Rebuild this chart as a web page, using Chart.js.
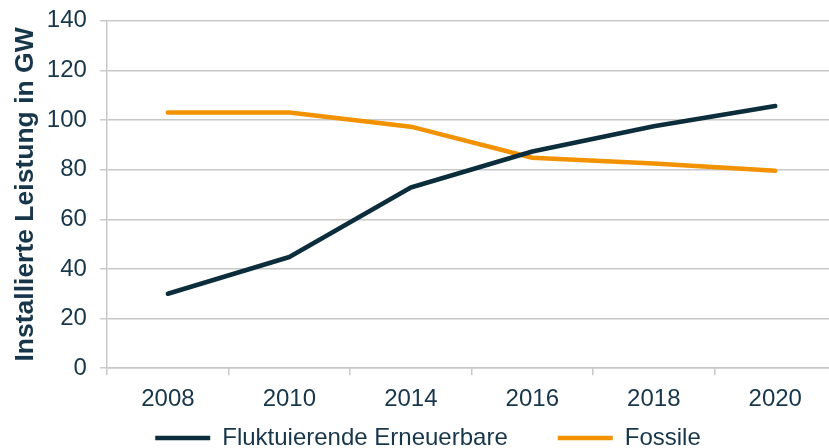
<!DOCTYPE html>
<html>
<head>
<meta charset="utf-8">
<script src="https://cdn.jsdelivr.net/npm/chart.js@4"></script>
<style>
  html, body { margin: 0; padding: 0; background: #fff; overflow: hidden; }
  #wrap { width: 837px; height: 448px; }
</style>
</head>
<body>
<div id="wrap"><canvas id="chart"></canvas></div>
<script>
// Werte (GW)
const jahre = ['2008', '2010', '2014', '2016', '2018', '2020'];
const erneuerbare = [30, 44.8, 72.8, 87.3, 97.5, 105.6];
const fossile = [103, 103, 97.3, 84.8, 82.5, 79.5];
const yTicks = [0, 20, 40, 60, 80, 100, 120, 140];

const dunkel = '#0c2d3c';
const orange = '#f39200';
const textFarbe = '#17364a';
const gitter = '#c8c8c8';

Chart.defaults.font.family = "'Liberation Sans', Arial, sans-serif";
Chart.defaults.color = textFarbe;

const ctx = document.getElementById('chart').getContext('2d');
new Chart(ctx, {
  type: 'line',
  data: {
    labels: jahre,
    datasets: [
      {
        label: 'Fluktuierende Erneuerbare',
        data: erneuerbare,
        borderColor: dunkel,
        backgroundColor: dunkel,
        borderWidth: 4.5,
        borderCapStyle: 'round',
        borderJoinStyle: 'round',
        pointRadius: 0,
        tension: 0
      },
      {
        label: 'Fossile',
        data: fossile,
        borderColor: orange,
        backgroundColor: orange,
        borderWidth: 4.5,
        borderCapStyle: 'round',
        borderJoinStyle: 'round',
        pointRadius: 0,
        tension: 0
      }
    ]
  },
  options: {
    responsive: true,
    maintainAspectRatio: false,
    animation: false,
    layout: { padding: { left: 20, right: 1, top: 0, bottom: -12 } },
    plugins: {
      tooltip: { enabled: false },
      legend: {
        position: 'bottom',
        // leerer Titel mit negativem Abstand: grosser Abstand zwischen den Eintraegen,
        // ohne dass die Legende hoeher wird
        title: { display: true, text: '', font: { size: 10 }, padding: { top: -60, bottom: 0 } },
        labels: {
          usePointStyle: true,
          pointStyle: 'line',
          pointStyleWidth: 55,
          padding: 50,
          color: textFarbe,
          font: { size: 24 }
        }
      }
    },
    scales: {
      x: {
        offset: true,
        grid: {
          offset: true,
          drawOnChartArea: false,
          color: gitter,
          lineWidth: 1.5,
          tickLength: 7
        },
        border: { color: gitter, width: 1.5 },
        ticks: { color: textFarbe, font: { size: 24 }, padding: 10, maxRotation: 0 }
      },
      y: {
        min: 0,
        max: 140,
        afterBuildTicks: axis => { axis.ticks = yTicks.map(v => ({ value: v })); },
        // Strich 14 lang, nur die axisnahen 7px sichtbar
        grid: {
          color: gitter,
          lineWidth: 1.5,
          tickLength: 14,
          tickBorderDash: [7, 7],
          tickBorderDashOffset: 7
        },
        border: { color: gitter, width: 1.5 },
        ticks: { color: textFarbe, font: { size: 24 }, padding: 6.3 },
        title: {
          display: true,
          text: 'Installierte Leistung in GW',
          color: textFarbe,
          font: { size: 26.5, weight: 'bold' },
          padding: { top: -10, bottom: -1.3 }
        }
      }
    }
  }
});
</script>
</body>
</html>
